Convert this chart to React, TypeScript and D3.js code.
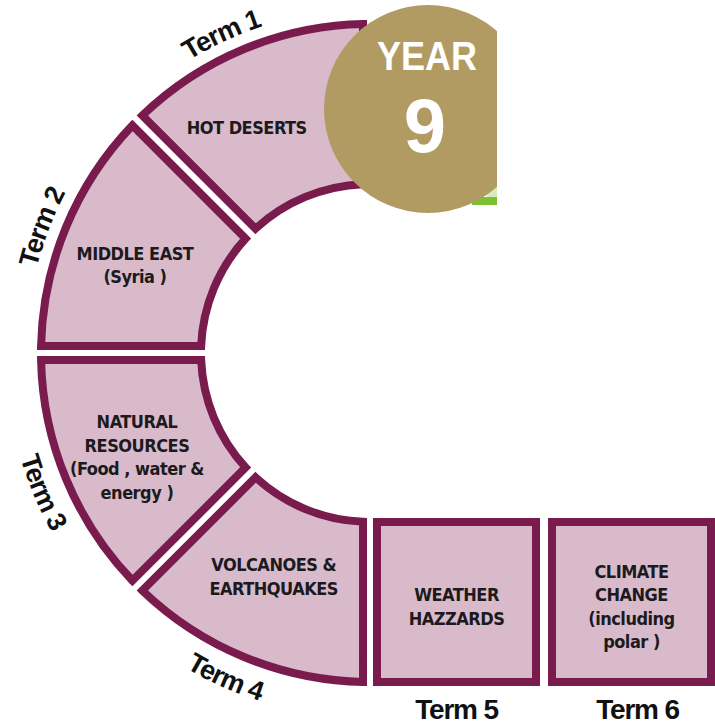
import React from 'react';
import * as d3 from 'd3';

// terms on the curved track (top -> bottom, anticlockwise)
const arcTerms = ['Term 1', 'Term 2', 'Term 3', 'Term 4'];
const arcTopics = [
  ['HOT DESERTS'],
  ['MIDDLE EAST', '(Syria )'],
  ['NATURAL', 'RESOURCES', '(Food , water &', 'energy )'],
  ['VOLCANOES &', 'EARTHQUAKES'],
];

// terms on the straight track
const boxTerms = ['Term 5', 'Term 6'];
const boxTopics = [
  ['WEATHER', 'HAZZARDS'],
  ['CLIMATE', 'CHANGE', '(including', 'polar )'],
];

const yearLabel = 'YEAR';
const yearNumber = '9';

const W = 715;
const H = 726;
const cx = 370;
const cy = 353;
const rIn = 169;
const rOut = 329;
const stroke = '#7a1b4d';
const fill = '#d8bacb';
const ink = '#1c1a1c';
const font = "'Liberation Sans', Arial, sans-serif";
const topicFont = "'DejaVu Sans Condensed', 'DejaVu Sans', sans-serif";

// label nudges relative to arc centroid (circle covers part of term 1)
const nudge = [
  [-28, 4],
  [-5, 7],
  [-3, 8],
  [-1, -7],
];
// small angular shift (deg) of the curved term labels
const labelShift = [-2.5, -1.5, -0.5, 1.5];

function pt(a: number, r: number) {
  return [cx + r * Math.sin(a), cy - r * Math.cos(a)];
}

function labelPath(a: number, r: number, cw: boolean) {
  const span = 0.9;
  const p0 = pt(cw ? a - span : a + span, r);
  const p1 = pt(cw ? a + span : a - span, r);
  return `M${p0[0]},${p0[1]}A${r},${r} 0 0 ${cw ? 1 : 0} ${p1[0]},${p1[1]}`;
}

export default function App() {
  const angle = d3.scaleBand<string>().domain(arcTerms).range([0, -Math.PI]);
  const arc = d3
    .arc<any>()
    .innerRadius(rIn)
    .outerRadius(rOut)
    .padRadius(100)
    .padAngle(0.14);

  const x = d3
    .scaleBand<string>()
    .domain(boxTerms)
    .range([373, 715])
    .paddingInner(0.0457);
  const boxTop = 518;
  const boxBottom = 686;

  const lineH = 23.5;

  const textBlock = (lines: string[], tx: number, tyc: number, key: string) => (
    <text
      key={key}
      textAnchor="middle"
      fontFamily={topicFont}
      fontStretch="condensed"
      fontWeight="bold"
      fontSize={18}
      letterSpacing={-0.5}
      fill={ink}
    >
      {lines.map((l, i) => (
        <tspan key={i} x={tx} y={tyc + (i - (lines.length - 1) / 2) * lineH + 7}>
          {l}
        </tspan>
      ))}
    </text>
  );

  return (
    <svg
      width={W}
      height={H}
      style={{ position: 'absolute', left: 0, top: 0, background: '#fff' }}
    >
      <defs>
        <clipPath id="cut">
          <rect x={0} y={0} width={497} height={H} />
        </clipPath>
        {arcTerms.map((t, i) => {
          const mid = angle(t)! + angle.bandwidth() / 2 + (labelShift[i] * Math.PI) / 180;
          const cw = mid > -Math.PI / 2;
          return (
            <path
              key={t}
              id={`lp${i}`}
              d={labelPath(mid, cw ? 344 : 365, cw)}
              fill="none"
            />
          );
        })}
      </defs>

      <g transform={`translate(${cx},${cy})`}>
        {arcTerms.map((t) => (
          <path
            key={t}
            d={arc({ startAngle: angle(t)!, endAngle: angle(t)! + angle.bandwidth() })!}
            fill={fill}
            stroke={stroke}
            strokeWidth={8}
            strokeLinejoin="miter"
          />
        ))}
      </g>

      {arcTerms.map((t, i) => {
        const c = arc.centroid({
          startAngle: angle(t)!,
          endAngle: angle(t)! + angle.bandwidth(),
        } as any);
        return textBlock(arcTopics[i], cx + c[0] + nudge[i][0], cy + c[1] + nudge[i][1], t);
      })}

      {arcTerms.map((t, i) => (
        <text
          key={t}
          fontFamily={font}
          fontWeight="bold"
          fontSize={27}
          letterSpacing={-1}
          fill="#111"
        >
          <textPath href={`#lp${i}`} startOffset="50%" textAnchor="middle">
            {t}
          </textPath>
        </text>
      ))}

      {boxTerms.map((t, i) => (
        <g key={t}>
          <rect
            x={x(t)! + 4}
            y={boxTop + 4}
            width={x.bandwidth() - 8}
            height={boxBottom - boxTop - 8}
            fill={fill}
            stroke={stroke}
            strokeWidth={8}
          />
          {textBlock(boxTopics[i], x(t)! + x.bandwidth() / 2, (boxTop + boxBottom) / 2 + 4, t + 'l')}
          <text
            x={x(t)! + x.bandwidth() / 2 + i * 6}
            y={719}
            textAnchor="middle"
            fontFamily={font}
            fontWeight="bold"
            fontSize={28}
            letterSpacing={-1.2}
            fill="#111"
          >
            {t}
          </text>
        </g>
      ))}

      <g clipPath="url(#cut)">
        <rect x={487} y={186} width={12} height={14} fill="#d7ebbb" />
        <rect x={472} y={197} width={27} height={8} fill="#7cc230" />
        <circle cx={428} cy={109} r={104} fill="#b29b63" />
      </g>
      <text
        x={427}
        y={70}
        textAnchor="middle"
        fontFamily={font}
        fontWeight="bold"
        fontSize={41}
        textLength={100}
        lengthAdjust="spacingAndGlyphs"
        fill="#fff"
      >
        {yearLabel}
      </text>
      <text
        x={425}
        y={152}
        textAnchor="middle"
        fontFamily={font}
        fontWeight="bold"
        fontSize={76}
        fill="#fff"
      >
        {yearNumber}
      </text>
    </svg>
  );
}
